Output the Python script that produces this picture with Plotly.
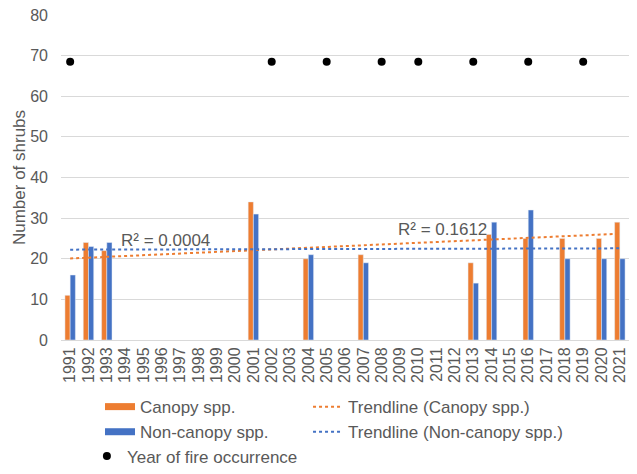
import numpy as np
import plotly.graph_objects as go

years = list(range(1991, 2022))
survey_years = [1991, 1992, 1993, 2001, 2004, 2007, 2013, 2014, 2016, 2018, 2020, 2021]
canopy = [11, 24, 22, 34, 20, 21, 19, 26, 25, 25, 25, 29]
non_canopy = [16, 23, 24, 31, 21, 19, 14, 29, 32, 20, 20, 20]
fire_years = [1991, 2002, 2005, 2008, 2010, 2013, 2016, 2019]
fire_level = [68.5] * len(fire_years)

ORANGE = "#ED7D31"
BLUE = "#4472C4"
GREY = "#595959"
FONT = "Liberation Sans, Arial, sans-serif"


def trend(xs, ys):
    # excel-style linear trendline + r squared
    k, b = np.polyfit(xs, ys, 1)
    pred = k * np.array(xs) + b
    r2 = 1 - np.sum((np.array(ys) - pred) ** 2) / np.sum((np.array(ys) - np.mean(ys)) ** 2)
    xe = [years[0], years[-1]]
    return xe, [k * x + b for x in xe], r2


tx_c, ty_c, r2_c = trend(survey_years, canopy)
tx_n, ty_n, r2_n = trend(survey_years, non_canopy)

fig = go.Figure()
fig.add_trace(go.Bar(x=survey_years, y=canopy, marker_color=ORANGE, showlegend=False))
fig.add_trace(go.Bar(x=survey_years, y=non_canopy, marker_color=BLUE, showlegend=False))

# legend entries (wide swatches like the excel legend)
fig.add_trace(go.Scatter(x=[None], y=[None], mode="lines", line=dict(color=ORANGE, width=7),
                         name="Canopy spp.", legend="legend"))
fig.add_trace(go.Scatter(x=[None], y=[None], mode="lines", line=dict(color=BLUE, width=7),
                         name="Non-canopy spp.", legend="legend"))
fig.add_trace(go.Scatter(x=tx_c, y=ty_c, mode="lines", line=dict(color=ORANGE, width=2, dash="dot"),
                         name="Trendline (Canopy spp.)", legend="legend2"))
fig.add_trace(go.Scatter(x=tx_n, y=ty_n, mode="lines", line=dict(color=BLUE, width=2, dash="dot"),
                         name="Trendline (Non-canopy spp.)", legend="legend2"))
fig.add_trace(go.Scatter(x=fire_years, y=fire_level, mode="markers",
                         marker=dict(color="black", size=8), name="Year of fire occurrence",
                         legend="legend3"))

fig.add_annotation(x=1996.2, y=24.6, text=f"R² = {r2_n:.4f}", showarrow=False,
                   font=dict(size=17, color=GREY, family=FONT))
fig.add_annotation(x=2011.3, y=27.1, text=f"R² = {r2_c:.4f}", showarrow=False,
                   font=dict(size=17, color=GREY, family=FONT))

fig.update_xaxes(
    range=[1990.5, 2021.5], tickmode="array", tickvals=years, ticktext=[str(y) for y in years],
    tickangle=-90, tickfont=dict(size=16, color=GREY, family=FONT),
    showgrid=False, showline=True, linecolor="#D9D9D9", linewidth=1, zeroline=False,
    automargin=False, ticklabeloverflow="allow",
)
fig.update_yaxes(
    range=[0, 80], dtick=10, tickfont=dict(size=16, color=GREY, family=FONT),
    gridcolor="#D9D9D9", gridwidth=1, zeroline=False, ticklabelstandoff=12,
    title=dict(text="Number of shrubs", font=dict(size=17, color=GREY, family=FONT), standoff=0),
    automargin=False, ticklabeloverflow="allow",
)
leg_font = dict(size=17, color=GREY, family=FONT)
# page body adds an 8px margin, so keep the figure inside the window
fig.update_layout(
    width=621, height=458,
    margin=dict(l=53, r=0, t=7, b=126, autoexpand=False),
    paper_bgcolor="white", plot_bgcolor="white",
    barmode="group", bargap=0.43, bargroupgap=0,
    font=dict(family=FONT, color=GREY),
    legend=dict(x=0.0687, xanchor="left", y=-0.151, yanchor="top", font=leg_font, bgcolor="rgba(0,0,0,0)"),
    legend2=dict(x=0.4349, xanchor="left", y=-0.151, yanchor="top", font=leg_font, bgcolor="rgba(0,0,0,0)"),
    legend3=dict(x=0.0456, xanchor="left", y=-0.303, yanchor="top", font=leg_font, bgcolor="rgba(0,0,0,0)"),
)

fig.write_html("out.html")
